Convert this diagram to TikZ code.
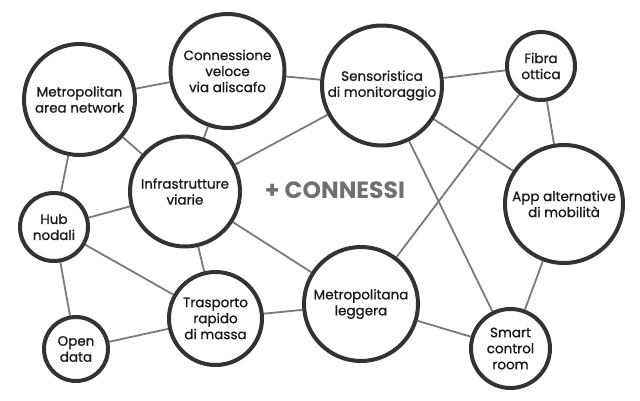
\documentclass[tikz,border=0pt]{standalone}
\usepackage{fontspec}
\setmainfont{Poppins}
\newfontfamily\topicfont{Poppins}[FakeBold=0.9]
\usepackage{tikz}
\usetikzlibrary{backgrounds}
\definecolor{ringgray}{HTML}{333333}
\definecolor{linkgray}{HTML}{7A7A7A}
\definecolor{titlegray}{HTML}{707070}

\begin{document}
\begin{tikzpicture}[x=1pt,y=-1pt,
  topic/.style={circle,draw=ringgray,line width=4pt,fill=white,inner sep=0pt,
    align=center,font=\topicfont\fontsize{13.5}{16}\selectfont,text=black!90},
  link/.style={draw=linkgray,line width=1.8pt}]
\useasboundingbox (0,0) rectangle (640,400);
\node[topic,minimum size=111pt] (man) at (79.5,99.5) {Metropolitan\\area network};
\node[topic,minimum size=114pt] (aliscafo) at (227.5,71) {Connessione\\veloce\\via aliscafo};
\node[topic,minimum size=120pt] (sensori) at (382,85.5) {Sensoristica\\di monitoraggio};
\node[topic,minimum size=68pt] (fibra) at (541,66) {Fibra\\ottica};
\node[topic,minimum size=118pt] (app) at (564,204) {App alternative\\di mobilità};
\node[topic,minimum size=110pt] (infra) at (185,191.5) {Infrastrutture\\viarie};
\node[topic,minimum size=68pt] (hub) at (54,227) {Hub\\nodali};
\node[topic,minimum size=93pt] (trasporto) at (215.5,318.5) {Trasporto\\rapido\\di massa};
\node[topic,minimum size=114pt] (metro) at (361,304) {Metropolitana\\leggera};
\node[topic,minimum size=64pt] (open) at (76,349) {Open\\data};
\node[topic,minimum size=79pt] (smart) at (510.5,348.5) {Smart\\control\\room};
\node[font=\fontsize{23.5}{28}\selectfont\bfseries,text=titlegray] (connessi) at (335,190) {+ CONNESSI};
% links between the topics
\begin{scope}[on background layer]
\draw[link] (man) -- (aliscafo);
\draw[link] (man) -- (infra);
\draw[link] (man) -- (hub);
\draw[link] (aliscafo) -- (infra);
\draw[link] (aliscafo) -- (sensori);
\draw[link] (infra) -- (sensori);
\draw[link] (sensori) -- (fibra);
\draw[link] (sensori) -- (app);
\draw[link] (sensori) -- (smart);
\draw[link] (fibra) -- (app);
\draw[link] (fibra) -- (metro);
\draw[link] (hub) -- (infra);
\draw[link] (hub) -- (trasporto);
\draw[link] (hub) -- (open);
\draw[link] (infra) -- (trasporto);
\draw[link] (infra) -- (metro);
\draw[link] (open) -- (trasporto);
\draw[link] (trasporto) -- (metro);
\draw[link] (metro) -- (smart);
\draw[link] (app) -- (smart);
\end{scope}
\end{tikzpicture}
\end{document}
